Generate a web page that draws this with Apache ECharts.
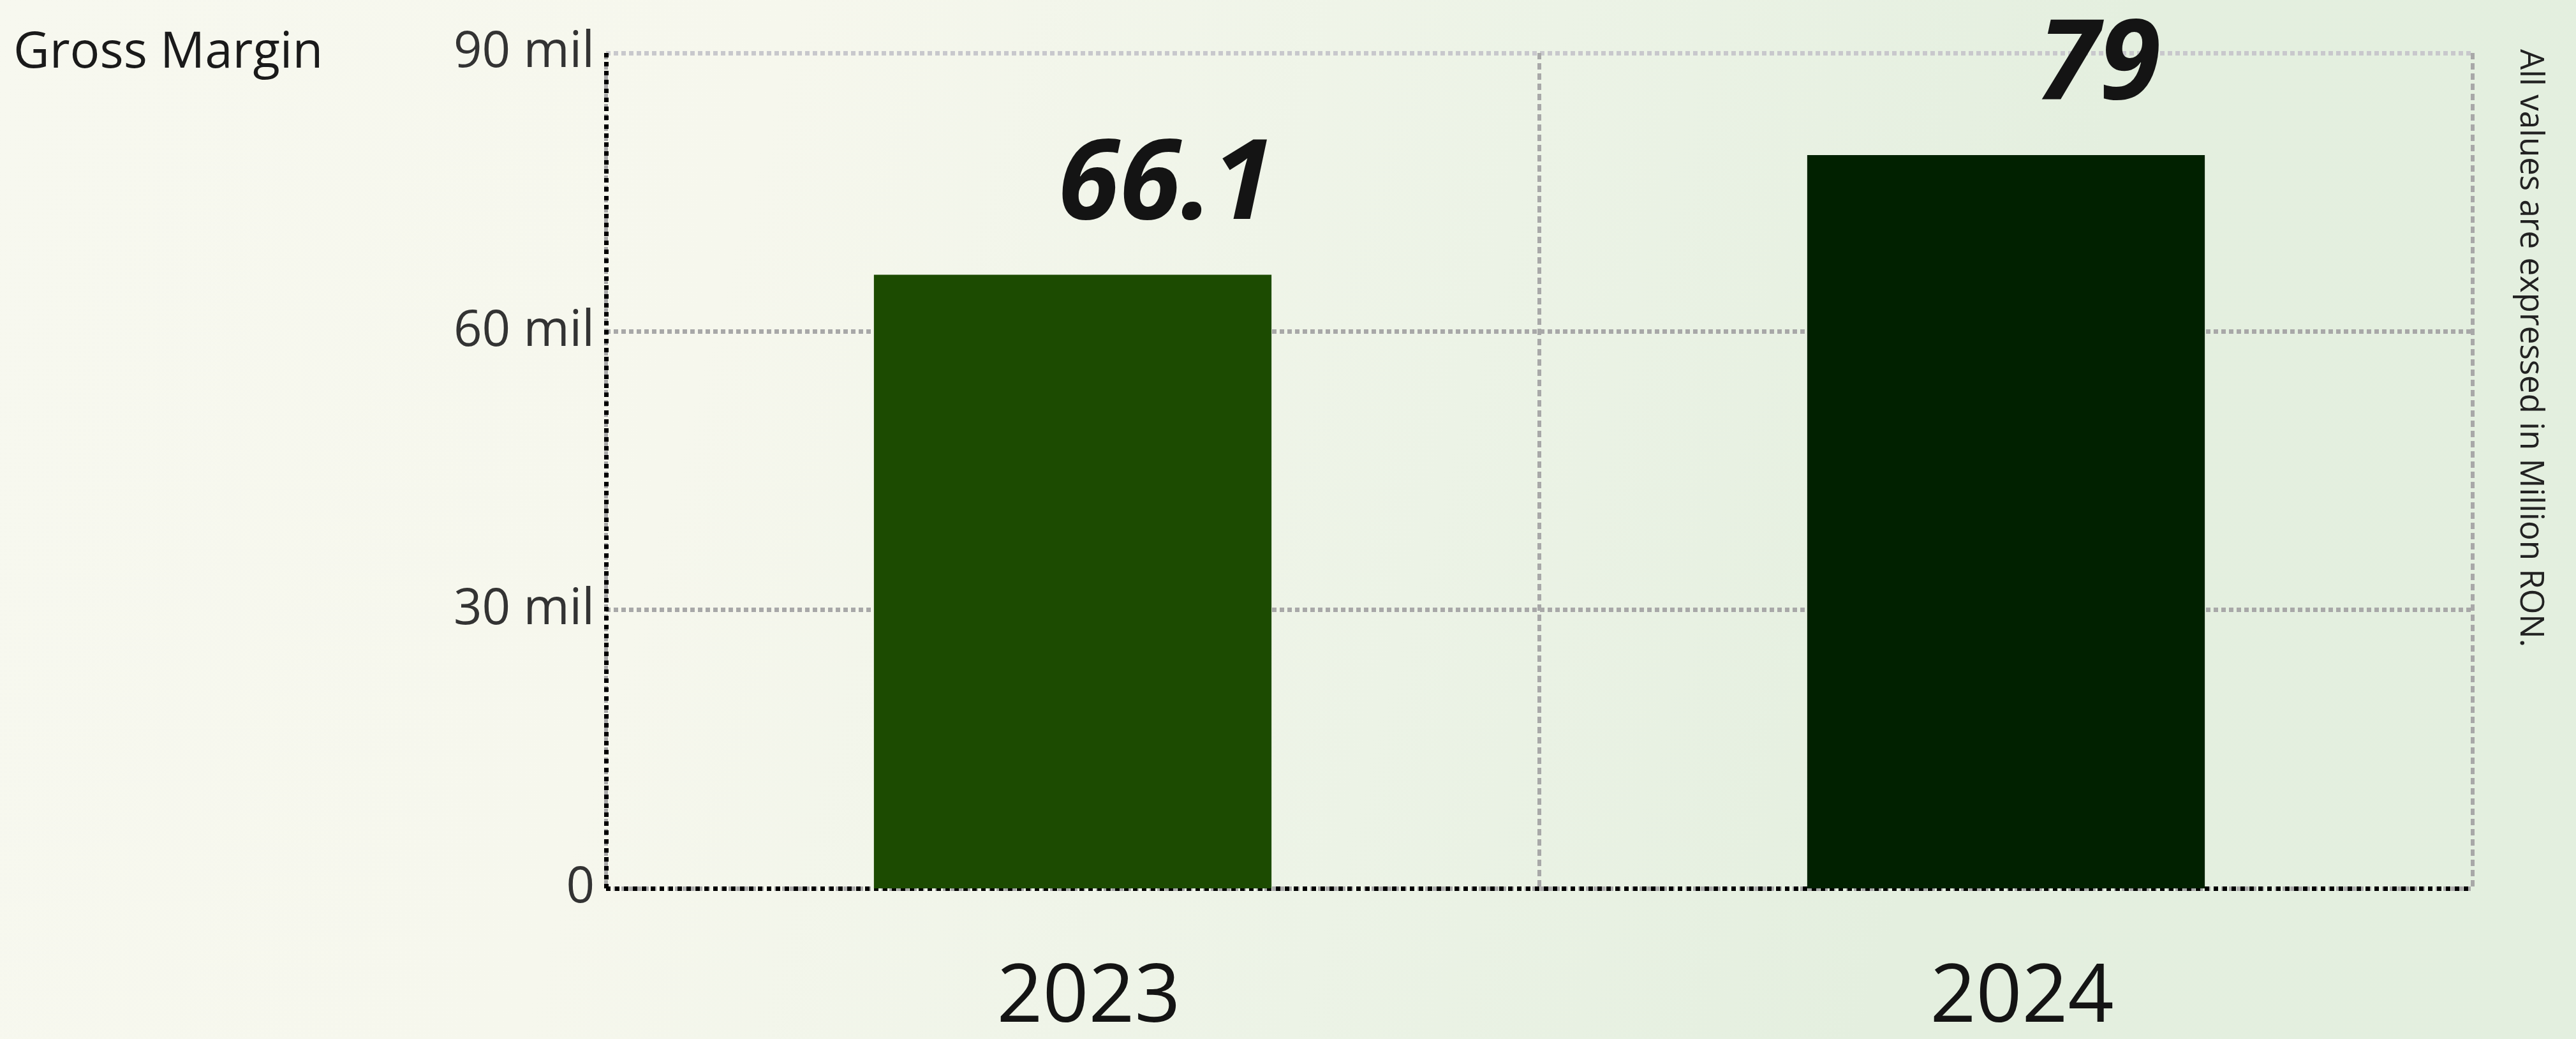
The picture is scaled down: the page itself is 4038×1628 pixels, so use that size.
<!DOCTYPE html>
<html>
<head>
<meta charset="utf-8">
<title>Gross Margin</title>
<script src="https://cdn.jsdelivr.net/npm/echarts@6/dist/echarts.min.js"></script>
<style>
  html, body { margin: 0; padding: 0; }
  #chart {
    width: 4038px;
    height: 1628px;
    background: linear-gradient(105deg, #f7f8ef 0%, #f6f7ed 28%, #ecf3e6 55%, #e4efdf 75%, #e3efdf 100%);
  }
</style>
</head>
<body>
<div id="chart"></div>
<script>
// data
var years = ['2023', '2024']
var grossMargin = [66.1, 79]
var barColors = ['#1c4b01', '#012100']
var yMin = 0
var yMax = 90
var yStep = 30

var chart = echarts.init(document.getElementById('chart'))

chart.setOption({
  animation: false,
  backgroundColor: 'transparent',
  textStyle: { fontFamily: 'Open Sans' },
  title: {
    text: 'Gross Margin',
    left: 16,
    top: 40,
    textStyle: {
      fontSize: 78,
      fontWeight: 'normal',
      color: '#1a1a1a'
    }
  },
  grid: {
    left: 950,
    right: 162,
    top: 83,
    bottom: 232,
    containLabel: false
  },
  xAxis: {
    type: 'category',
    data: years,
    axisTick: { show: false },
    axisLine: {
      lineStyle: { color: '#000', width: 7, type: 'dotted', cap: 'butt' }
    },
    axisLabel: {
      fontSize: 126,
      color: '#141414',
      margin: 110,
      padding: [0, 0, 0, 50]
    },
    splitLine: {
      show: true,
      lineStyle: { color: '#a8a8a8', width: 6, type: [10, 6] }
    }
  },
  yAxis: {
    type: 'value',
    min: yMin,
    max: yMax,
    interval: yStep,
    axisTick: { show: false },
    axisLine: {
      show: true,
      lineStyle: { color: '#000', width: 7, type: 'dotted', cap: 'butt' }
    },
    axisLabel: {
      fontSize: 78,
      color: '#333',
      margin: 18,
      formatter: function(value) {
        return value === 0 ? '0' : value + ' mil'
      }
    },
    splitLine: {
      show: true,
      lineStyle: {
        color: ['#a8a8a8', '#a8a8a8', '#a8a8a8', '#c8c8cc'],
        width: 7,
        type: [7, 5]
      }
    }
  },
  series: [{
    type: 'bar',
    barWidth: '42.6%',
    data: grossMargin.map(function(v, i) {
      return { value: v, itemStyle: { color: barColors[i] } }
    }),
    label: {
      show: true,
      position: 'top',
      distance: 50,
      offset: [146, 0],
      fontSize: 175,
      fontWeight: 'bold',
      fontStyle: 'italic',
      color: '#141414'
    }
  }],
  graphic: [{
    type: 'text',
    x: 3966,
    y: 77,
    rotation: -Math.PI / 2,
    style: {
      text: 'All values are expressed in Million RON.',
      fontFamily: 'Open Sans',
      fontSize: 51,
      fill: '#222',
      align: 'left',
      verticalAlign: 'middle'
    }
  }]
})
</script>
</body>
</html>
